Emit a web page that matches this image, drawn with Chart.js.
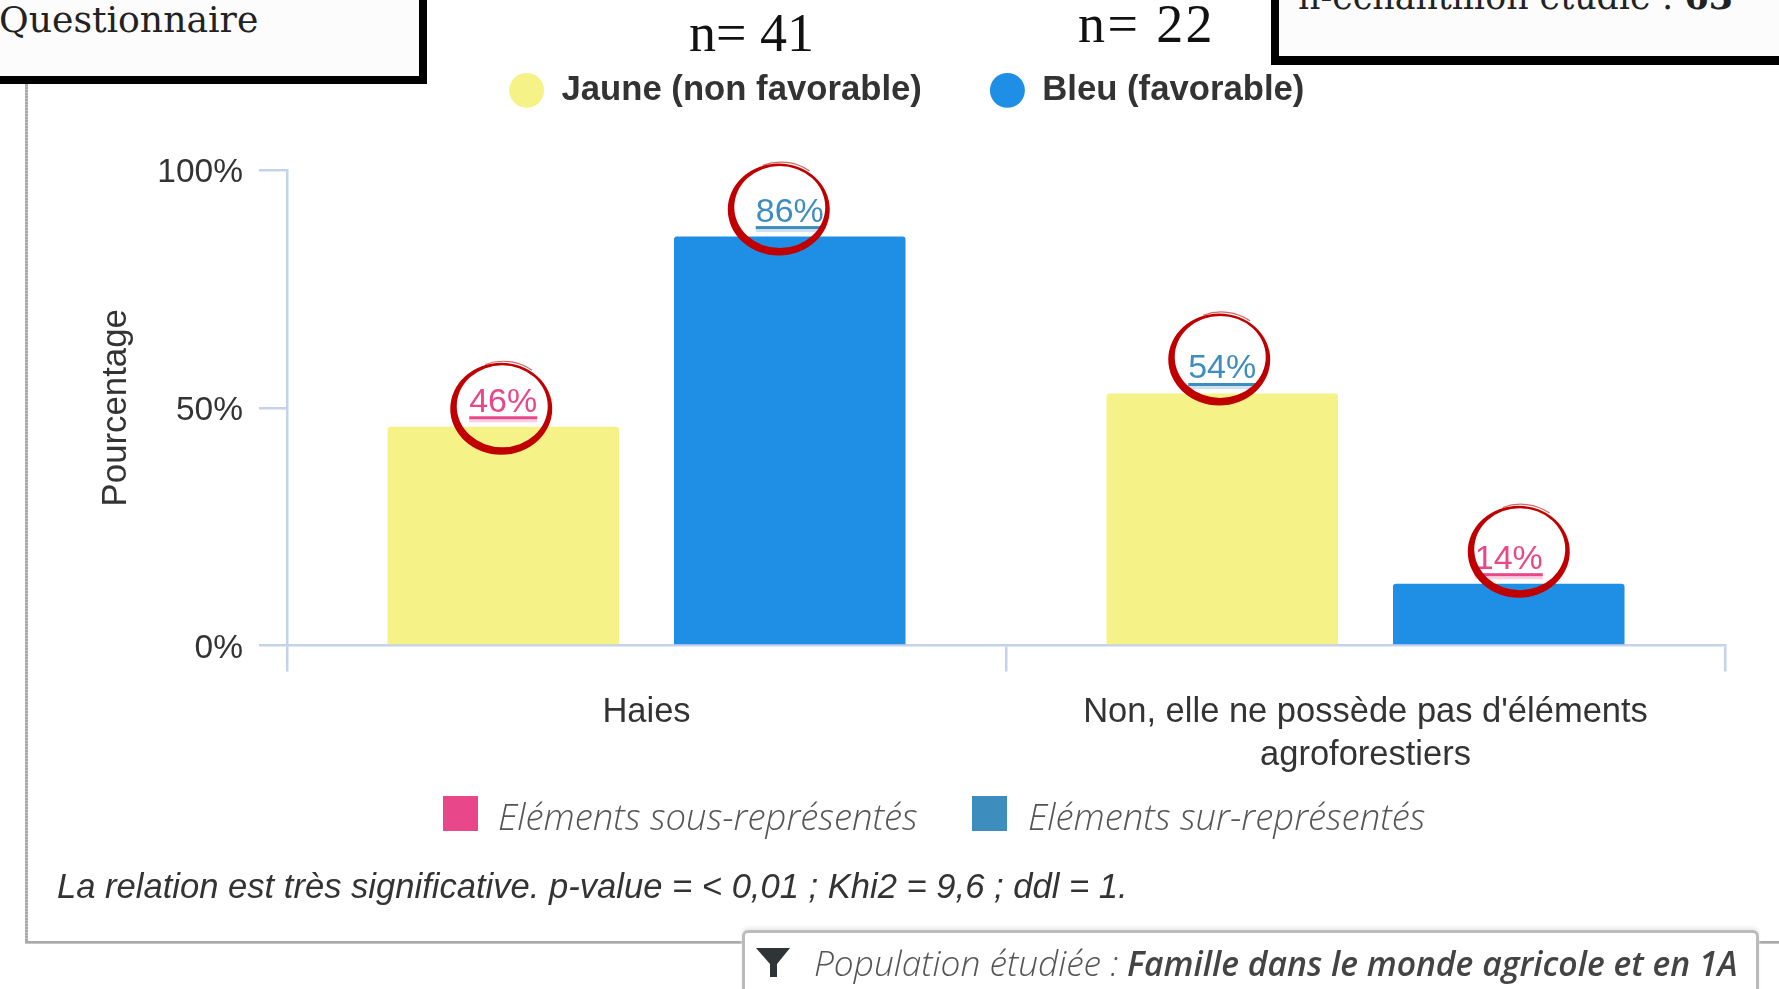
<!DOCTYPE html>
<html><head><meta charset="utf-8">
<script src="https://cdn.jsdelivr.net/npm/chart.js@4"></script>
<style>
html,body{margin:0;padding:0;background:#fff;width:1779px;height:989px;overflow:hidden}
#wrap{position:relative;width:1779px;height:989px;overflow:hidden}
canvas{position:absolute;left:0;top:0}
.t{position:absolute;white-space:pre;line-height:1;}
.box{position:absolute;background:#fcfcfc;border-style:solid;border-color:#000;box-sizing:border-box}
.sq{position:absolute}
.frame{position:absolute;background:repeating-linear-gradient(#aaa 0 2px,#c4c4c4 2px 3px)}
</style></head><body>
<div id="wrap">
<canvas id="c" width="1779" height="989"></canvas>
<div class="frame" style="left:25px;top:84px;width:3px;height:859px"></div>
<div class="frame" style="left:25px;top:941px;width:720px;height:3px"></div>
<div class="frame" style="left:1758px;top:941px;width:21px;height:3px"></div>

<div class="box" style="left:-10px;top:-10px;width:437px;height:94px;border-width:0 8px 8px 0"></div>
<div class="t" style="left:-1px;top:-2px;font:36.2px 'DejaVu Serif';color:#222">Questionnaire</div>
<div class="box" style="left:1271px;top:-10px;width:520px;height:75px;border-width:0 0 9px 8px"></div>
<div class="t" style="left:1298px;top:-24px;font:34.8px 'DejaVu Serif';color:#222">n-échantillon étudié : <b>63</b></div>

<div class="t" style="left:689px;top:2px;font:54px 'Liberation Serif';color:#111">n= 41</div>
<div class="t" style="left:1078px;top:-7px;font:54px 'Liberation Serif';color:#111;letter-spacing:2.4px">n= 22</div>

<div class="sq" style="left:443px;top:796px;width:35px;height:35px;background:#e8488a"></div>
<div class="t" style="left:498px;top:791px;font:italic 300 36.5px 'Open Sans';color:#555">Eléments sous-représentés</div>
<div class="sq" style="left:972px;top:796px;width:35px;height:35px;background:#3e8dbf"></div>
<div class="t" style="left:1028px;top:791px;font:italic 300 36.5px 'Open Sans';color:#555">Eléments sur-représentés</div>

<div class="t" style="left:57px;top:867px;font:italic 34.6px 'Liberation Sans';color:#333">La relation est très significative. p-value = &lt; 0,01 ; Khi2 = 9,6 ; ddl = 1.</div>

<div style="position:absolute;left:742px;top:930px;width:1017px;height:70px;background:#fff;border:3px solid #bbb;border-radius:6px 6px 0 0;box-sizing:border-box;box-shadow:0 -3px 3px #eee"></div>
<svg style="position:absolute;left:756px;top:947px" width="36" height="32"><path d="M0 1H34L21 17V30H14V17Z" fill="#2f3436"/></svg>
<div class="t" style="left:814px;top:938px;font:italic 300 35.3px 'Open Sans';color:#555">Population étudiée : </div>
<div class="t" style="left:1127px;top:939.7px;font:italic 600 33.7px 'Open Sans';color:#444">Famille dans le monde agricole et en 1A</div>
</div>
<script>
const categories = [["Haies"], ["Non, elle ne possède pas d'éléments", "agroforestiers"]];
const seriesNames = ["Jaune (non favorable)", "Bleu (favorable)"];
const jauneValues = [46, 53];
const bleuValues = [86, 13];
const jauneLabels = ["46%", "54%"];
const bleuLabels = ["86%", "14%"];
const yTicks = [0, 50, 100];

const YELLOW = "#f5f388", BLUE = "#1f8fe6", AXIS = "#c6d1ea", PINK = "#e8488a", STEEL = "#3e8dbf", RED = "#c00000";
const jauneLabelColors = [PINK, STEEL];
const bleuLabelColors = [STEEL, PINK];
// hand-drawn ring offsets relative to the bar top centre
const jauneRings = [{dx:-2,dy:28},{dx:-3,dy:12}];
const bleuRings = [{dx:-11,dy:19},{dx:10,dy:14}];

function ring(ctx, cx, bottom){
  const rx=51, ry=46, cy=bottom-ry;
  ctx.save();
  ctx.fillStyle=RED;
  ctx.beginPath();
  ctx.ellipse(cx,cy,rx,ry,0,0,Math.PI*2);
  ctx.ellipse(cx+1,cy-2.5,rx-5.5,ry-5,0,0,Math.PI*2);
  ctx.fill("evenodd");
  ctx.strokeStyle="rgba(192,0,0,0.6)";
  ctx.lineWidth=1.2;
  ctx.beginPath();
  ctx.ellipse(cx+2,cy-1,rx-2,ry+0.5,0,-Math.PI*0.62,-Math.PI*0.3);
  ctx.stroke();
  ctx.restore();
}
const marks = {
  id:"marks",
  beforeLayout(chart){
    const lg = chart.legend;
    if(!lg._fixed){
      const f = lg.fit;
      lg.fit = function(){ f.call(this); this.height = 165; };
      lg._fixed = true;
    }
  },
  afterLayout(chart){ chart.legend.left -= 3.5; chart.legend.right -= 3.5; },
  afterDatasetsDraw(chart){
    const ctx = chart.ctx;
    const draw = (di, labels, colors, rings) => {
      chart.getDatasetMeta(di).data.forEach((bar,i)=>{
        const x = bar.x, top = bar.y;
        ctx.save();
        ctx.font = "34px 'Liberation Sans'";
        ctx.textAlign = "center";
        ctx.textBaseline = "alphabetic";
        ctx.fillStyle = colors[i];
        ctx.fillText(labels[i], x, top-15);
        const w = ctx.measureText(labels[i]).width;
        ctx.fillRect(x-w/2, top-10.5, w, 3);
        ctx.globalAlpha=0.25;
        ctx.fillRect(x-w/2, top-7.5, w, 3);
        ctx.restore();
        ring(ctx, x+rings[i].dx, top+rings[i].dy);
      });
    };
    draw(0, jauneLabels, jauneLabelColors, jauneRings);
    draw(1, bleuLabels, bleuLabelColors, bleuRings);
  }
};
Chart.defaults.font.family = "'Liberation Sans'";
new Chart(document.getElementById("c"), {
  type:"bar",
  data:{labels:categories, datasets:[
    {label:seriesNames[0], data:jauneValues, backgroundColor:YELLOW, borderRadius:{topLeft:3,topRight:3}, categoryPercentage:0.797, barPercentage:0.808},
    {label:seriesNames[1], data:bleuValues, backgroundColor:BLUE, borderRadius:{topLeft:3,topRight:3}, categoryPercentage:0.797, barPercentage:0.808}
  ]},
  plugins:[marks],
  options:{
    responsive:false, animation:false,
    layout:{padding:{left:95.5,right:54,top:5,bottom:203.5}},
    plugins:{
      tooltip:{enabled:false},
      legend:{position:"top",labels:{usePointStyle:true,pointStyle:"circle",boxHeight:24.7,pointStyleWidth:35,padding:68,color:"#333",font:{size:34.7,weight:"bold"}}}
    },
    scales:{
      x:{
        grid:{offset:true,color:AXIS,lineWidth:2.5,drawOnChartArea:false,drawTicks:true,tickLength:26},
        border:{color:AXIS,width:2.5},
        ticks:{color:"#333",font:{size:34.5,lineHeight:1.25},padding:19,maxRotation:0,autoSkip:false},
        afterFit(s){s.height=140;}
      },
      y:{
        min:0,max:100,
        afterBuildTicks(s){s.ticks=yTicks.map(v=>({value:v}));},
        grid:{color:AXIS,lineWidth:2.5,drawOnChartArea:false,tickLength:28},
        border:{color:AXIS,width:2.5},
        ticks:{color:"#333",font:{size:33.5},padding:16,labelOffset:3,callback:v=>v+"%"},
        title:{display:true,text:"Pourcentage",color:"#333",font:{size:34.8},padding:0},
        afterFit(s){s.width=191.5;}
      }
    }
  }
});
</script>
</body></html>
